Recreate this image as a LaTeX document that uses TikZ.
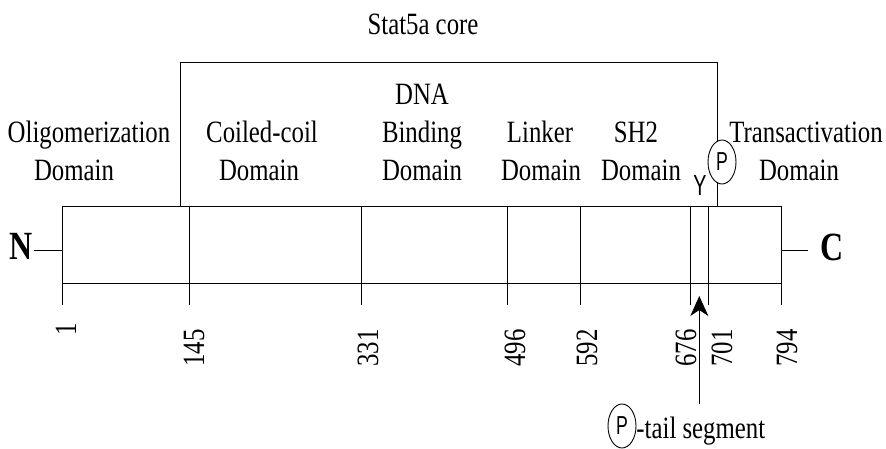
\documentclass[tikz,border=0pt]{standalone}
\usepackage{fontspec}
\setmainfont{Liberation Serif}[FakeStretch=0.8]
\newfontfamily\sansf{Liberation Sans}[FakeStretch=0.68]
\usepackage{tikz}
\usetikzlibrary{arrows.meta,shapes.geometric}
\tikzset{
	lbl/.style={anchor=base, inner sep=0, font=\fontsize{31}{38}\selectfont},
	num/.style={rotate=90, inner sep=0, font=\fontsize{31}{38}\selectfont},
	term/.style={inner sep=0, font=\fontsize{40}{40}\selectfont\bfseries},
	phos/.style={draw, ellipse, fill=white, inner sep=0, minimum width=28pt, minimum height=44pt, font=\sansf\fontsize{26}{26}\selectfont}
}

\begin{document}
\begin{tikzpicture}[x=1pt, y=-1pt, line width=0.9pt]
			%%%%% START %%%%%
			\useasboundingbox (0,0) rectangle (886,449);
			
			\node[lbl] (core) at (423,35) {Stat5a core};
			
			% core bracket
			\draw (180,206) -- (180,62.7) -- (717.3,62.7) -- (717.3,206);
			
			% domain labels
			\node[lbl] (oligo) at (89,143) {Oligomerization};
			\node[lbl] (oligod) at (74,181) {Domain};
			\node[lbl] (coil) at (262,143) {Coiled-coil};
			\node[lbl] (coild) at (259,181) {Domain};
			\node[lbl] (dna) at (422,105) {DNA};
			\node[lbl] (dnab) at (422,143) {Binding};
			\node[lbl] (dnad) at (422,181) {Domain};
			\node[lbl] (link) at (540,143) {Linker};
			\node[lbl] (linkd) at (541,181) {Domain};
			\node[lbl] (sh) at (636,143) {SH2};
			\node[lbl] (shd) at (641,181) {Domain};
			\node[lbl] (trans) at (806,143) {Transactivation};
			\node[lbl] (transd) at (799,181) {Domain};
			
			\node[inner sep=0, font=\sansf\fontsize{29}{29}\selectfont] (tyr) at (700,186) {Y};
			\node[phos] (ptyr) at (722,162) {P};
			
			% the chain
			\draw (62,206) rectangle (781,283);
			\foreach \x in {62,189,361.7,507.7,580.7,690,708.3,781.3}
				\draw (\x,206) -- (\x,305);
			
			\node[term] (nterm) at (21,246) {N};
			\node[term] (cterm) at (832,247) {C};
			\coordinate (barW) at (62,250);
			\coordinate (barE) at (781.3,250);
			\draw (nterm.east) ++(1,4) -- (barW);
			\draw (barE) -- ++(26.7,0);
			
			% residue numbers
			\node[num] (r1) at (66,329) {1};
			\node[num] (r145) at (194,348) {145};
			\node[num] (r331) at (368,348) {331};
			\node[num] (r496) at (515,348) {496};
			\node[num] (r592) at (587,348) {592};
			\node[num] (r676) at (686,348) {676};
			\node[num] (r701) at (722,348) {701};
			\node[num] (r794) at (787,348) {794};
			
			% P-tail segment
			\coordinate (tailend) at (699.3,404);
			\coordinate (tailtip) at (699.3,296);
			\draw[-{Stealth[length=20pt, width=18pt, inset=6pt]}] (tailend) -- (tailtip);
			\node[phos] (ptail) at (622,426) {P};
			\node[lbl, anchor=base west] (tail) at (636,438) {-tail segment};
			%%%%% END %%%%%
		\end{tikzpicture}
\end{document}
